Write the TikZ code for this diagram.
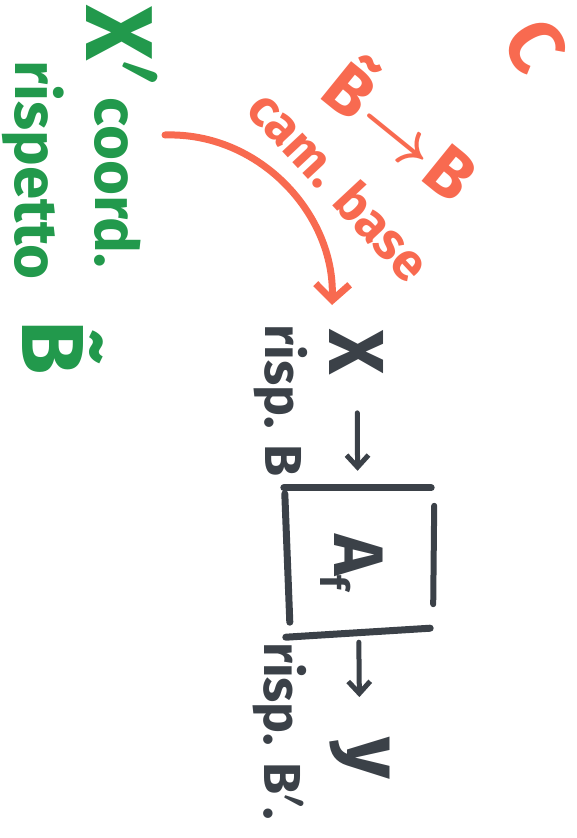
\RequirePackage{fix-cm}
\documentclass[tikz,border=0pt]{standalone}
\usepackage{fontspec}
\setmainfont{Fira Sans}
\usetikzlibrary{calc,arrows.meta}
\definecolor{ink}{HTML}{3B4148}
\definecolor{redink}{HTML}{F86A50}
\definecolor{greenink}{HTML}{22994C}
\newcommand{\fs}[1]{\fontsize{#1}{#1}\selectfont\bfseries\boldmath}
\begin{document}
\begin{tikzpicture}[x=1pt,y=-1pt,
  every node/.style={inner sep=0pt},
  blk/.style={text=ink, rotate=-90},
  grn/.style={text=greenink, rotate=-90},
  rd/.style={text=redink},
  stroke/.style={draw=ink, line width=7pt, line cap=round},
  arr/.style={draw=ink, line width=5pt, line cap=round, -{Straight Barb[length=12pt,width=22pt,line width=5pt]}},
  redarr/.style={draw=redink, line width=7pt, line cap=round, -{Straight Barb[length=16pt,width=34pt,line width=7pt]}}]
\useasboundingbox (0,0) rectangle (576,838);

% black main chain
\node[blk, font=\fs{78}] (x) at (357,352) {X};
\node[minimum width=148pt, minimum height=146pt] (box) at (358,561) {};
\node[blk, font=\fs{70}] (af) at (352,562) {A\raisebox{-14pt}{\fs{40}f}};
\node[blk, font=\fs{80}] (y) at (360,758) {y};
\draw[stroke] (box.north west) -- ($(box.north east)+(-1,0)$);
\draw[stroke] ($(box.north west)+(1,6)$) -- ($(box.south west)+(6,-12)$);
\draw[stroke, line width=6pt] ($(box.north east)+(2,18)$) -- ($(box.south east)+(1,-30)$);
\draw[stroke] ($(box.south west)+(2,3)$) -- ($(box.south east)+(-2,-6)$);
\draw[arr, shorten <=38pt, shorten >=17pt] (x) -- (box);
\draw[arr, shorten <=8pt, shorten >=40pt] (box) -- (y);
\node[blk, font=\fs{52}] (lb1) at (281,401) {risp. B};
\node[blk, font=\fs{52}] (lb2) at (280,731) {risp. B$'$.};

% green
\node[grn, font=\fs{95}] (xp) at (122,45) {X$'$};
\node[grn, font=\fs{60}] (coord) at (118,183) {coord.};
\node[grn, font=\fs{60}] (risp) at (33,170) {rispetto};
\node[grn, font=\fs{88}, anchor=base] (bt) at (22,348) {\~{B}};

% red
\node[rd, rotate=-60, font=\fs{78}] (c) at (535,45) {C};
\node[rd, rotate=-39, font=\fs{70}] (bb) at (405,126) {\~{B}\kern3pt$\to$\kern3pt B};
\node[rd, rotate=-47, font=\fs{52}] (cb) at (340,185) {cam. base};
\coordinate (rs) at (165,135);
\coordinate (re) at (332,305);
\draw[redarr] (rs) .. controls (260,132) and (335,215) .. (re);
\end{tikzpicture}
\end{document}
